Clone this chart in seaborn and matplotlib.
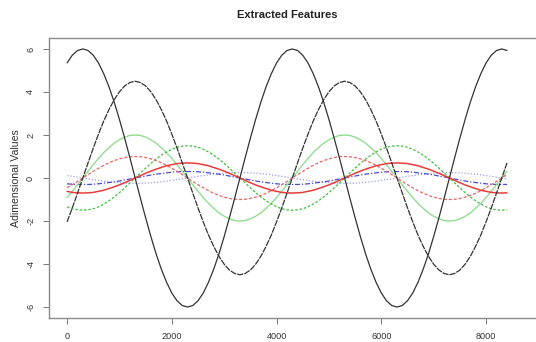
import numpy as np
import pandas as pd
import matplotlib
matplotlib.use('Agg')
import matplotlib.pyplot as plt
import seaborn as sns

# ==================== data (step 100) ====================
x_vals = np.arange(0, 8500, 100)

black_solid = [
    5.35, 5.71, 5.93,
    6.00, 5.93, 5.71, 5.35, 4.85, 4.24, 3.53, 2.72, 1.85, 0.94,
    0.00, -0.94, -1.85, -2.72, -3.53, -4.24, -4.85, -5.35, -5.71, -5.93,
    -6.00, -5.93, -5.71, -5.35, -4.85, -4.24, -3.53, -2.72, -1.85, -0.94,
    0.00, 0.94, 1.85, 2.72, 3.53, 4.24, 4.85, 5.35, 5.71, 5.93,
    6.00, 5.93, 5.71, 5.35, 4.85, 4.24, 3.53, 2.72, 1.85, 0.94,
    0.00, -0.94, -1.85, -2.72, -3.53, -4.24, -4.85, -5.35, -5.71, -5.93,
    -6.00, -5.93, -5.71, -5.35, -4.85, -4.24, -3.53, -2.72, -1.85, -0.94,
    0.00, 0.94, 1.85, 2.72, 3.53, 4.24, 4.85, 5.35, 5.71, 5.93,
    6.00, 5.93,
]

black_dashed = [
    -2.04, -1.39, -0.70, 0.00, 0.70, 1.39, 2.04, 2.65, 3.18, 3.64, 4.01, 4.28, 4.44,
    4.50, 4.44, 4.28, 4.01, 3.64, 3.18, 2.65, 2.04, 1.39, 0.70,
    0.00, -0.70, -1.39, -2.04, -2.65, -3.18, -3.64, -4.01, -4.28, -4.44,
    -4.50, -4.44, -4.28, -4.01, -3.64, -3.18, -2.65, -2.04, -1.39, -0.70,
    0.00, 0.70, 1.39, 2.04, 2.65, 3.18, 3.64, 4.01, 4.28, 4.44,
    4.50, 4.44, 4.28, 4.01, 3.64, 3.18, 2.65, 2.04, 1.39, 0.70,
    0.00, -0.70, -1.39, -2.04, -2.65, -3.18, -3.64, -4.01, -4.28, -4.44,
    -4.50, -4.44, -4.28, -4.01, -3.64, -3.18, -2.65, -2.04, -1.39, -0.70,
    0.00, 0.70,
]

green_solid = [
    -0.91, -0.62, -0.31, 0.00, 0.31, 0.62, 0.91, 1.18, 1.41, 1.62, 1.78, 1.90, 1.98,
    2.00, 1.98, 1.90, 1.78, 1.62, 1.41, 1.18, 0.91, 0.62, 0.31,
    0.00, -0.31, -0.62, -0.91, -1.18, -1.41, -1.62, -1.78, -1.90, -1.98,
    -2.00, -1.98, -1.90, -1.78, -1.62, -1.41, -1.18, -0.91, -0.62, -0.31,
    0.00, 0.31, 0.62, 0.91, 1.18, 1.41, 1.62, 1.78, 1.90, 1.98,
    2.00, 1.98, 1.90, 1.78, 1.62, 1.41, 1.18, 0.91, 0.62, 0.31,
    0.00, -0.31, -0.62, -0.91, -1.18, -1.41, -1.62, -1.78, -1.90, -1.98,
    -2.00, -1.98, -1.90, -1.78, -1.62, -1.41, -1.18, -0.91, -0.62, -0.31,
    0.00, 0.31,
]

green_dashed = [
    -1.34, -1.43, -1.48, -1.50, -1.48, -1.43, -1.34, -1.21, -1.06, -0.88,
    -0.68, -0.46, -0.23, 0.00, 0.23, 0.46, 0.68, 0.88, 1.06, 1.21, 1.34, 1.43, 1.48,
    1.50, 1.48, 1.43, 1.34, 1.21, 1.06, 0.88, 0.68, 0.46, 0.23,
    0.00, -0.23, -0.46, -0.68, -0.88, -1.06, -1.21, -1.34, -1.43, -1.48,
    -1.50, -1.48, -1.43, -1.34, -1.21, -1.06, -0.88, -0.68, -0.46, -0.23,
    0.00, 0.23, 0.46, 0.68, 0.88, 1.06, 1.21, 1.34, 1.43, 1.48,
    1.50, 1.48, 1.43, 1.34, 1.21, 1.06, 0.88, 0.68, 0.46, 0.23,
    0.00, -0.23, -0.46, -0.68, -0.88, -1.06, -1.21, -1.34, -1.43, -1.48,
    -1.50, -1.48,
]

red_dashed = [
    -0.45, -0.31, -0.16, 0.00, 0.16, 0.31, 0.45, 0.59, 0.71, 0.81, 0.89, 0.95, 0.99,
    1.00, 0.99, 0.95, 0.89, 0.81, 0.71, 0.59, 0.45, 0.31, 0.16,
    0.00, -0.16, -0.31, -0.45, -0.59, -0.71, -0.81, -0.89, -0.95, -0.99,
    -1.00, -0.99, -0.95, -0.89, -0.81, -0.71, -0.59, -0.45, -0.31, -0.16,
    0.00, 0.16, 0.31, 0.45, 0.59, 0.71, 0.81, 0.89, 0.95, 0.99,
    1.00, 0.99, 0.95, 0.89, 0.81, 0.71, 0.59, 0.45, 0.31, 0.16,
    0.00, -0.16, -0.31, -0.45, -0.59, -0.71, -0.81, -0.89, -0.95, -0.99,
    -1.00, -0.99, -0.95, -0.89, -0.81, -0.71, -0.59, -0.45, -0.31, -0.16,
    0.00, 0.16,
]

red_solid = [
    -0.62, -0.67, -0.69, -0.70, -0.69, -0.67, -0.62, -0.57, -0.49, -0.41,
    -0.32, -0.22, -0.11, 0.00, 0.11, 0.22, 0.32, 0.41, 0.49, 0.57, 0.62, 0.67, 0.69,
    0.70, 0.69, 0.67, 0.62, 0.57, 0.49, 0.41, 0.32, 0.22, 0.11,
    0.00, -0.11, -0.22, -0.32, -0.41, -0.49, -0.57, -0.62, -0.67, -0.69,
    -0.70, -0.69, -0.67, -0.62, -0.57, -0.49, -0.41, -0.32, -0.22, -0.11,
    0.00, 0.11, 0.22, 0.32, 0.41, 0.49, 0.57, 0.62, 0.67, 0.69,
    0.70, 0.69, 0.67, 0.62, 0.57, 0.49, 0.41, 0.32, 0.22, 0.11,
    0.00, -0.11, -0.22, -0.32, -0.41, -0.49, -0.57, -0.62, -0.67, -0.69,
    -0.70, -0.69,
]

blue_dashdot = [
    -0.27, -0.29, -0.30, -0.30, -0.30, -0.29, -0.27, -0.24, -0.21, -0.18,
    -0.14, -0.09, -0.05, 0.00, 0.05, 0.09, 0.14, 0.18, 0.21, 0.24, 0.27, 0.29, 0.30,
    0.30, 0.30, 0.29, 0.27, 0.24, 0.21, 0.18, 0.14, 0.09, 0.05,
    0.00, -0.05, -0.09, -0.14, -0.18, -0.21, -0.24, -0.27, -0.29, -0.30,
    -0.30, -0.30, -0.29, -0.27, -0.24, -0.21, -0.18, -0.14, -0.09, -0.05,
    0.00, 0.05, 0.09, 0.14, 0.18, 0.21, 0.24, 0.27, 0.29, 0.30,
    0.30, 0.30, 0.29, 0.27, 0.24, 0.21, 0.18, 0.14, 0.09, 0.05,
    0.00, -0.05, -0.09, -0.14, -0.18, -0.21, -0.24, -0.27, -0.29, -0.30,
    -0.30, -0.30,
]

blue_dotted = [
    0.11, 0.08, 0.04, 0.00, -0.04, -0.08, -0.11, -0.15, -0.18, -0.20,
    -0.22, -0.24, -0.25, -0.25, -0.25, -0.24, -0.22, -0.20, -0.18, -0.15,
    -0.11, -0.08, -0.04, 0.00, 0.04, 0.08, 0.11, 0.15, 0.18, 0.20, 0.22, 0.24, 0.25,
    0.25, 0.25, 0.24, 0.22, 0.20, 0.18, 0.15, 0.11, 0.08, 0.04,
    0.00, -0.04, -0.08, -0.11, -0.15, -0.18, -0.20, -0.22, -0.24, -0.25,
    -0.25, -0.25, -0.24, -0.22, -0.20, -0.18, -0.15, -0.11, -0.08, -0.04,
    0.00, 0.04, 0.08, 0.11, 0.15, 0.18, 0.20, 0.22, 0.24, 0.25,
    0.25, 0.25, 0.24, 0.22, 0.20, 0.18, 0.15, 0.11, 0.08, 0.04,
    0.00, -0.04,
]

x_ticks = [0, 2000, 4000, 6000, 8000]
y_ticks = [-6, -4, -2, 0, 2, 4, 6]

# ==================== style ====================
sns.set_style('white')
plt.rcParams['font.family'] = ['Liberation Sans', 'DejaVu Sans']

series = [
    (blue_dotted, '#9c9cf2', (0, (1, 1.5)), 0.9),
    (blue_dashdot, '#4a4ad8', (0, (4, 1.5, 1, 1.5)), 0.9),
    (green_solid, '#93dc93', '-', 1.0),
    (green_dashed, '#3fbf3f', (0, (2, 1.5)), 0.9),
    (red_dashed, '#e86666', (0, (2.5, 1.5)), 0.9),
    (red_solid, '#e83c3c', '-', 1.1),
    (black_dashed, '#333333', (0, (5, 0.8)), 0.9),
    (black_solid, '#333333', '-', 0.9),
]

fig = plt.figure(figsize=(5.36, 3.42), dpi=100)
ax = fig.add_axes([49 / 536, 24 / 342, 491 / 536, 280 / 342])

for vals, col, ls, lw in series:
    sns.lineplot(x=x_vals, y=vals, color=col, linestyle=ls, linewidth=lw, ax=ax)

ax.set_xlim(-345, 9030)
ax.set_ylim(-6.51, 6.51)
ax.set_xticks(x_ticks)
ax.set_yticks(y_ticks)
ax.set_xticklabels([str(v) for v in x_ticks], fontsize=6.6, color='#333333')
ax.set_yticklabels([str(v) for v in y_ticks], fontsize=6.6, color='#333333',
                   rotation=90, va='center')
ax.tick_params(axis='both', direction='out', length=4, width=0.7,
               color='#777777', pad=6, bottom=True, left=True)
for sp in ax.spines.values():
    sp.set_color('#8a8a8a')
    sp.set_linewidth(1.0)

ax.set_xlabel('')
ax.set_ylabel('Adimensional Values', fontsize=7.6, color='#333333')
ax.yaxis.set_label_coords((21 - 49) / 491, 0.5)
fig.text(287 / 536, 1 - 15 / 342, 'Extracted Features', ha='center', va='center',
         fontsize=8, fontweight='bold', color='#222222')

fig.savefig('out.png', dpi=100)
